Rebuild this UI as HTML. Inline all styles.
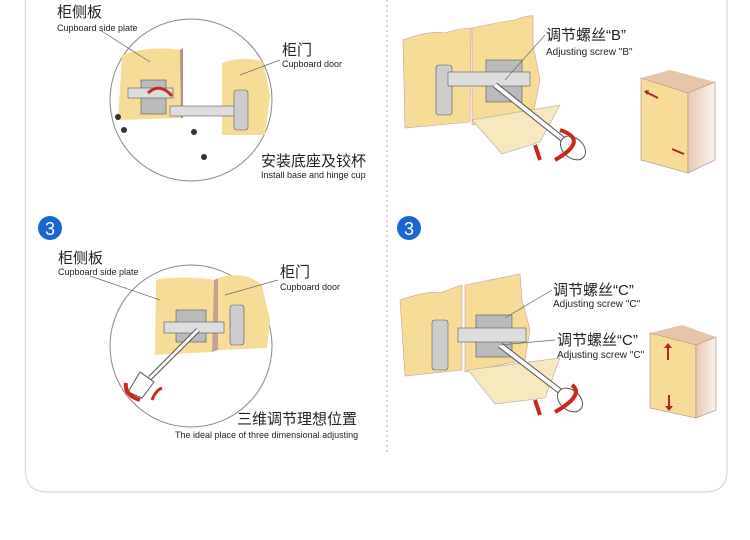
<!DOCTYPE html>
<html><head><meta charset="utf-8"><style>
html,body{margin:0;padding:0;background:#fff;}
svg{display:block;}
text{font-family:"Liberation Sans","Noto Sans CJK SC",sans-serif;fill:#222;}
.cn{font-size:15px;}
.en{font-size:9px;}
</style></head><body>
<svg width="750" height="540" viewBox="0 0 750 540">
<defs>
<linearGradient id="sh" x1="0" y1="0" x2="1" y2="0"><stop offset="0" stop-color="#e9c9b0"/><stop offset="1" stop-color="#fbf3ee"/></linearGradient>
</defs>
<!-- outer box -->
<path d="M25.5 -2 V470 Q25.5 492 47.5 492 H705 Q727 492 727 470 V-2" fill="none" stroke="#d8d8d8" stroke-width="1.2"/>
<line x1="387" y1="0" x2="387" y2="452" stroke="#aaa" stroke-dasharray="2,3"/>

<!-- ===== top-left ===== -->
<circle cx="191" cy="100" r="81" fill="#fff" stroke="#888" stroke-width="1"/>
<path d="M122 55 Q150 45 180 50 L181 118 L118 120 Z" fill="#f6dc97"/>
<path d="M180 50 L183 48 L183 118 L181 118 Z" fill="#b89080"/>
<path d="M222 63 Q245 55 263 62 L270 95 L265 135 L222 135 Z" fill="#f6dc97"/>
<rect x="141" y="80" width="25" height="34" fill="#bbb" stroke="#555" stroke-width=".6"/>
<rect x="128" y="88" width="45" height="10" fill="#ddd" stroke="#555" stroke-width=".6"/>
<rect x="170" y="106" width="70" height="10" fill="#ddd" stroke="#555" stroke-width=".6"/>
<rect x="234" y="90" width="14" height="40" rx="3" fill="#ccc" stroke="#555" stroke-width=".6"/>
<path d="M148 93 Q160 82 172 96" fill="none" stroke="#c9281e" stroke-width="3"/>
<g fill="#333"><circle cx="118" cy="117" r="3"/><circle cx="124" cy="130" r="3"/><circle cx="194" cy="132" r="3"/><circle cx="204" cy="157" r="3"/></g>
<line x1="100" y1="30" x2="150" y2="62" stroke="#666" stroke-width=".7"/>
<line x1="280" y1="60" x2="240" y2="75" stroke="#666" stroke-width=".7"/>
<text class="cn" x="57" y="17">柜侧板</text>
<text class="en" x="57" y="31">Cupboard side plate</text>
<text class="cn" x="282" y="55">柜门</text>
<text class="en" x="282" y="67">Cupboard door</text>
<text class="cn" x="261" y="166">安装底座及铰杯</text>
<text class="en" x="261" y="178">Install base and hinge cup</text>

<!-- ===== top-right ===== -->
<path d="M403 40 Q430 30 445 33 Q460 28 471 28 L470 122 L405 128 Z" fill="#f6dc97" stroke="#c9a" stroke-width=".6"/>
<path d="M472 28 Q500 22 515 20 Q528 15 533 16 L533 45 L540 80 L534 110 L472 125 Z" fill="#f6dc97" stroke="#c9a" stroke-width=".6"/>
<path d="M472 120 L560 105 L540 142 L502 154 Z" fill="#f8e8bd" stroke="#aaa" stroke-width=".6"/>
<rect x="436" y="65" width="16" height="50" rx="3" fill="#ccc" stroke="#555" stroke-width=".6"/>
<rect x="486" y="60" width="36" height="42" fill="#bbb" stroke="#555" stroke-width=".6"/>
<rect x="448" y="72" width="82" height="14" fill="#ddd" stroke="#555" stroke-width=".6"/>
<line x1="495" y1="85" x2="570" y2="145" stroke="#555" stroke-width="6"/>
<line x1="495" y1="85" x2="570" y2="145" stroke="#fff" stroke-width="4"/>
<ellipse cx="573" cy="148" rx="10" ry="14" transform="rotate(-50 573 148)" fill="#fff" stroke="#555"/>
<path d="M560 130 Q590 140 555 160" fill="none" stroke="#c9281e" stroke-width="4"/>
<path d="M535 145 L540 160" stroke="#c9281e" stroke-width="4"/>
<line x1="545" y1="35" x2="505" y2="80" stroke="#666" stroke-width=".7"/>
<text class="cn" x="546" y="40">调节螺丝“B”</text>
<text style="font-size:10px" x="546" y="55">Adjusting screw "B"</text>
<polygon points="641,78 670,70 715,82 688,93" fill="#e6c4a6"/>
<polygon points="641,78 688,93 688,173 641,160" fill="#f6dc97" stroke="#a88" stroke-width=".6"/>
<polygon points="688,93 715,82 715,160 688,173" fill="url(#sh)" stroke="#a88" stroke-width=".6"/>
<path d="M658 98 L646 92" stroke="#b3261e" stroke-width="2"/><path d="M644 91 l5 -1 l-2 5z" fill="#b3261e"/>
<path d="M672 149 L684 154" stroke="#b3261e" stroke-width="2"/>

<!-- badges -->
<circle cx="50" cy="228" r="12" fill="#1a66d2"/><text x="50" y="235" text-anchor="middle" style="font-size:18px;fill:#fff">3</text>
<circle cx="409" cy="228" r="12" fill="#1a66d2"/><text x="409" y="235" text-anchor="middle" style="font-size:18px;fill:#fff">3</text>

<!-- ===== bottom-left ===== -->
<circle cx="191" cy="346" r="81" fill="#fff" stroke="#888"/>
<path d="M156 280 Q180 275 214 280 L212 352 L155 355 Z" fill="#f6dc97"/>
<path d="M214 280 L218 278 L218 350 L212 352 Z" fill="#c8a090"/>
<path d="M218 278 Q245 270 262 285 L270 320 L267 348 L218 350 Z" fill="#f6dc97"/>
<rect x="176" y="310" width="30" height="32" fill="#bbb" stroke="#555" stroke-width=".6"/>
<rect x="164" y="322" width="60" height="11" fill="#ddd" stroke="#555" stroke-width=".6"/>
<rect x="230" y="305" width="14" height="40" rx="3" fill="#ccc" stroke="#555" stroke-width=".6"/>
<line x1="198" y1="330" x2="150" y2="378" stroke="#555" stroke-width="5"/>
<line x1="198" y1="330" x2="150" y2="378" stroke="#fff" stroke-width="3"/>
<path d="M140 372 L128 392 L142 398 L154 382 Z" fill="#fff" stroke="#555"/>
<path d="M126 383 Q124 395 140 400" fill="none" stroke="#c9281e" stroke-width="4"/>
<path d="M152 400 Q156 390 162 388" fill="none" stroke="#c9281e" stroke-width="3"/>
<line x1="90" y1="276" x2="160" y2="300" stroke="#666" stroke-width=".7"/>
<line x1="278" y1="280" x2="225" y2="295" stroke="#666" stroke-width=".7"/>
<text class="cn" x="58" y="263">柜侧板</text>
<text class="en" x="58" y="275">Cupboard side plate</text>
<text class="cn" x="280" y="277">柜门</text>
<text class="en" x="280" y="290">Cupboard door</text>
<text class="cn" x="237" y="424">三维调节理想位置</text>
<text class="en" x="175" y="438">The ideal place of three dimensional adjusting</text>

<!-- ===== bottom-right ===== -->
<path d="M400 300 Q430 290 440 293 Q455 287 462 285 L462 370 L405 376 Z" fill="#f6dc97" stroke="#c9a" stroke-width=".6"/>
<path d="M465 285 Q500 278 520 274 L522 300 L530 330 L525 360 L465 372 Z" fill="#f6dc97" stroke="#c9a" stroke-width=".6"/>
<path d="M468 370 L560 358 L545 398 L495 404 Z" fill="#f8e8bd" stroke="#aaa" stroke-width=".6"/>
<rect x="432" y="320" width="16" height="50" rx="3" fill="#ccc" stroke="#555" stroke-width=".6"/>
<rect x="476" y="315" width="36" height="42" fill="#bbb" stroke="#555" stroke-width=".6"/>
<rect x="458" y="328" width="68" height="14" fill="#ddd" stroke="#555" stroke-width=".6"/>
<line x1="500" y1="345" x2="565" y2="395" stroke="#555" stroke-width="6"/>
<line x1="500" y1="345" x2="565" y2="395" stroke="#fff" stroke-width="4"/>
<ellipse cx="570" cy="400" rx="10" ry="14" transform="rotate(-50 570 400)" fill="#fff" stroke="#555"/>
<path d="M572 385 Q585 395 555 412" fill="none" stroke="#c9281e" stroke-width="4"/>
<path d="M535 400 L540 415" stroke="#c9281e" stroke-width="4"/>
<line x1="552" y1="290" x2="505" y2="318" stroke="#666" stroke-width=".7"/>
<line x1="555" y1="340" x2="500" y2="345" stroke="#666" stroke-width=".7"/>
<text class="cn" x="553" y="295">调节螺丝“C”</text>
<text style="font-size:10px" x="553" y="307">Adjusting screw "C"</text>
<text class="cn" x="557" y="345">调节螺丝“C”</text>
<text style="font-size:10px" x="557" y="358">Adjusting screw "C"</text>
<polygon points="650,333 682,325 716,337 696,345" fill="#e6c4a6"/>
<polygon points="650,333 696,345 696,418 650,408" fill="#f6dc97" stroke="#a88" stroke-width=".6"/>
<polygon points="696,345 716,337 716,410 696,418" fill="url(#sh)" stroke="#a88" stroke-width=".6"/>
<path d="M668 360 V346" stroke="#b3261e" stroke-width="2"/><path d="M664 348 l4 -5 l4 5z" fill="#b3261e"/>
<path d="M669 395 V408" stroke="#b3261e" stroke-width="2"/><path d="M665 406 l4 5 l4 -5z" fill="#b3261e"/>
</svg>
</body></html>
